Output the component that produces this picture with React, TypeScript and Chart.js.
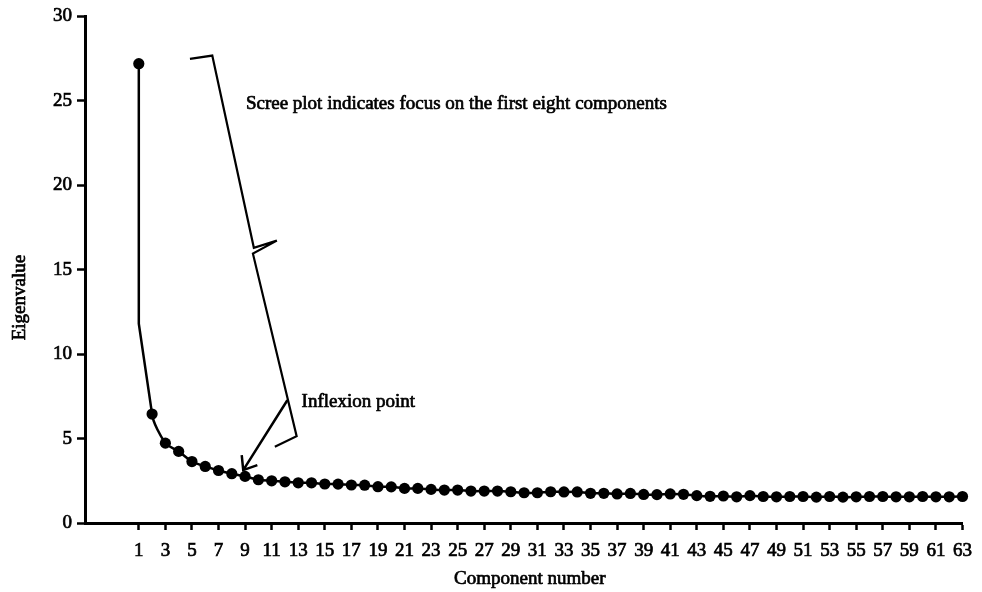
import React, { useEffect, useRef } from 'react';
import { Chart, registerables } from 'chart.js';

Chart.register(...registerables);

// ---- data ----
const componentNumbers = [
  1, 2, 3, 4, 5, 6, 7, 8, 9, 10, 11, 12, 13, 14, 15, 16, 17, 18, 19, 20, 21,
  22, 23, 24, 25, 26, 27, 28, 29, 30, 31, 32, 33, 34, 35, 36, 37, 38, 39, 40, 41, 42,
  43, 44, 45, 46, 47, 48, 49, 50, 51, 52, 53, 54, 55, 56, 57, 58, 59, 60, 61, 62, 63,
];
const eigenvalues = [
  27.2, 6.45, 4.73, 4.24, 3.64, 3.35, 3.11, 2.92, 2.76, 2.56, 2.5, 2.44, 2.38, 2.38,
  2.31, 2.3, 2.25, 2.24, 2.15, 2.14, 2.05, 2.05, 1.99, 1.95, 1.95, 1.89, 1.89, 1.89,
  1.85, 1.79, 1.79, 1.85, 1.84, 1.84, 1.76, 1.76, 1.72, 1.75, 1.69, 1.68, 1.72, 1.7,
  1.62, 1.58, 1.6, 1.55, 1.62, 1.57, 1.55, 1.57, 1.57, 1.53, 1.57, 1.53, 1.55, 1.57,
  1.57, 1.55, 1.55, 1.57, 1.55, 1.55, 1.57,
];
// the drawn connector drops vertically from component 1 to this level before reaching component 2
const connectorKneeValue = 11.8;

const xTickValues = [
  1, 3, 5, 7, 9, 11, 13, 15, 17, 19, 21, 23, 25, 27, 29, 31, 33, 35, 37, 39, 41, 43,
  45, 47, 49, 51, 53, 55, 57, 59, 61, 63,
];
const yTickValues = [0, 5, 10, 15, 20, 25, 30];

const xAxisTitle = 'Component number';
const yAxisTitle = 'Eigenvalue';
const screeNote = 'Scree plot indicates focus on the first eight components';
const inflexionNote = 'Inflexion point';

// annotation geometry in data units (component number, eigenvalue)
const bracketXs = [4.85, 6.53, 9.66, 11.39, 9.59, 12.88, 11.24];
const bracketYs = [27.48, 27.68, 16.3, 16.72, 15.95, 5.14, 4.51];
const arrowStart = [12.18, 7.27];
const arrowEnd = [8.86, 3.13];
const screeNoteAt = [9.06, 24.51];
const inflexionNoteAt = [13.25, 6.87];

const FONT = '"Liberation Serif", "Times New Roman", serif';
const TEXT_STROKE = 0.7;

const annotationPlugin = {
  id: 'screeAnnotations',
  afterDatasetsDraw(chart: any) {
    const { ctx, scales, chartArea } = chart;
    const xs = scales.x;
    const ys = scales.y;
    const px = (v: number) => xs.getPixelForValue(v);
    const py = (v: number) => ys.getPixelForValue(v);
    ctx.save();
    ctx.strokeStyle = '#000';
    ctx.fillStyle = '#000';
    ctx.lineWidth = 2.2;
    ctx.lineJoin = 'miter';
    // bracket
    ctx.beginPath();
    bracketXs.forEach((bx, i) => {
      const X = px(bx);
      const Y = py(bracketYs[i]);
      if (i === 0) ctx.moveTo(X, Y);
      else ctx.lineTo(X, Y);
    });
    ctx.stroke();
    // arrow
    const sx = px(arrowStart[0]);
    const sy = py(arrowStart[1]);
    const ex = px(arrowEnd[0]);
    const ey = py(arrowEnd[1]);
    ctx.lineWidth = 2.5;
    ctx.beginPath();
    ctx.moveTo(sx, sy);
    ctx.lineTo(ex, ey);
    const ang = Math.atan2(sy - ey, sx - ex);
    const head = 15;
    const spread = (38 * Math.PI) / 180;
    ctx.moveTo(ex + head * Math.cos(ang - spread), ey + head * Math.sin(ang - spread));
    ctx.lineTo(ex, ey);
    ctx.lineTo(ex + head * Math.cos(ang + spread), ey + head * Math.sin(ang + spread));
    ctx.stroke();
    // texts
    const drawText = (t: string, x: number, y: number) => {
      ctx.fillText(t, x, y);
      ctx.strokeText(t, x, y);
    };
    ctx.font = `19px ${FONT}`;
    ctx.lineWidth = TEXT_STROKE;
    ctx.lineJoin = 'round';
    ctx.textAlign = 'left';
    ctx.textBaseline = 'alphabetic';
    drawText(screeNote, px(screeNoteAt[0]), py(screeNoteAt[1]));
    drawText(inflexionNote, px(inflexionNoteAt[0]), py(inflexionNoteAt[1]));
    // axis titles
    ctx.textAlign = 'center';
    ctx.textBaseline = 'middle';
    drawText(xAxisTitle, (chartArea.left + chartArea.right) / 2 + 6, chart.height - 13);
    ctx.translate(20, chartArea.top + (chartArea.bottom - chartArea.top) * 0.555);
    ctx.rotate(-Math.PI / 2);
    drawText(yAxisTitle, 0, 0);
    ctx.restore();
  },
};

export default function App() {
  const canvasRef = useRef<HTMLCanvasElement | null>(null);

  useEffect(() => {
    const canvas = canvasRef.current;
    if (!canvas) return;
    const points = componentNumbers.map((c, i) => ({ x: c, y: eigenvalues[i] }));
    const connector = [
      { x: componentNumbers[0], y: eigenvalues[0] },
      { x: componentNumbers[0], y: connectorKneeValue },
      { x: componentNumbers[1], y: eigenvalues[1] },
    ];
    const tickFont = { family: FONT, size: 19 };
    const chart = new Chart(canvas, {
      type: 'line',
      data: {
        datasets: [
          {
            label: 'connector',
            data: connector,
            borderColor: '#000',
            borderWidth: 2.5,
            pointRadius: 0,
            tension: 0,
            order: 2,
            clip: false,
          },
          {
            label: 'Eigenvalue',
            data: points,
            borderColor: '#000',
            backgroundColor: '#000',
            borderWidth: 2.5,
            pointRadius: 5.6,
            pointBackgroundColor: '#000',
            pointBorderColor: '#000',
            pointBorderWidth: 0,
            tension: 0.25,
            order: 1,
            clip: false,
            segment: {
              borderColor: (ctx: any) => (ctx.p0DataIndex === 0 ? 'rgba(0,0,0,0)' : '#000'),
            },
          },
        ],
      },
      options: {
        animation: false,
        responsive: true,
        maintainAspectRatio: false,
        devicePixelRatio: 1,
        layout: { padding: { top: 15, right: 19, left: 0, bottom: 0 } },
        plugins: {
          legend: { display: false },
          tooltip: { enabled: false },
        },
        scales: {
          x: {
            type: 'linear',
            min: -3.05,
            max: 63,
            afterBuildTicks: (scale: any) => {
              scale.ticks = xTickValues.map((v) => ({ value: v }));
            },
            afterFit: (scale: any) => {
              scale.height = 69;
            },
            ticks: {
              color: '#000',
              font: tickFont,
              padding: 10,
              maxRotation: 0,
              autoSkip: false,
              textStrokeColor: '#000',
              textStrokeWidth: TEXT_STROKE,
              callback: (v: any) => String(v),
            },
            grid: {
              display: true,
              drawOnChartArea: false,
              drawTicks: true,
              tickLength: 7,
              tickWidth: 2.5,
              tickColor: '#000',
            },
            border: { display: true, color: '#000', width: 3 },
          },
          y: {
            type: 'linear',
            min: 0,
            max: 30,
            afterBuildTicks: (scale: any) => {
              scale.ticks = yTickValues.map((v) => ({ value: v }));
            },
            afterFit: (scale: any) => {
              scale.width = 85;
            },
            ticks: {
              color: '#000',
              font: tickFont,
              padding: 5,
              textStrokeColor: '#000',
              textStrokeWidth: TEXT_STROKE,
              callback: (v: any) => String(v),
            },
            grid: {
              display: true,
              drawOnChartArea: false,
              drawTicks: true,
              tickLength: 8,
              tickWidth: 2.5,
              tickColor: '#000',
            },
            border: { display: true, color: '#000', width: 3 },
          },
        },
      },
      plugins: [annotationPlugin],
    });
    return () => chart.destroy();
  }, []);

  return (
    <div style={{ position: 'fixed', left: 0, top: 0, width: 982, height: 592, background: '#fff' }}>
      <canvas ref={canvasRef} />
    </div>
  );
}
